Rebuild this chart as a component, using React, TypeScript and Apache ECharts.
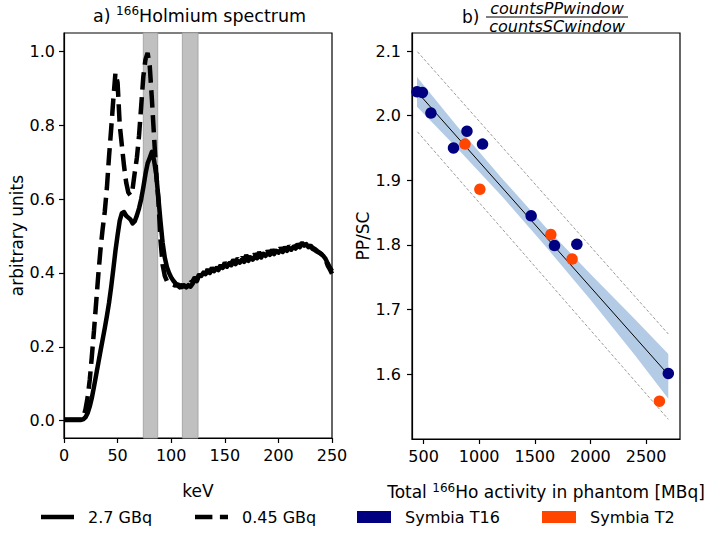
import React, { useEffect, useRef } from "react";
import * as echarts from "echarts";

// ---------- Panel a) 166Ho spectrum ----------
const energyKeV = [
  0, 2, 4, 6, 8, 10, 12, 14, 16, 18, 20, 22, 24, 26, 28, 30, 32, 34, 36, 38,
  40, 42, 44, 46, 48, 50, 52, 54, 56, 58, 60, 62, 64, 66, 68, 70, 72, 74, 76, 78,
  80, 82, 84, 86, 88, 90, 92, 94, 96, 98, 100, 102, 104, 106, 108, 110, 112, 114, 116, 118,
  120, 122, 124, 126, 128, 130, 132, 134, 136, 138, 140, 142, 144, 146, 148, 150, 152, 154, 156, 158,
  160, 162, 164, 166, 168, 170, 172, 174, 176, 178, 180, 182, 184, 186, 188, 190, 192, 194, 196, 198,
  200, 202, 204, 206, 208, 210, 212, 214, 216, 218, 220, 222, 224, 226, 228, 230, 232, 234, 236, 238,
  240, 242, 244, 246, 248, 250,
];

const spectrum27GBq = [
  0.003, 0.003, 0.003, 0.003, 0.003, 0.003, 0.003, 0.003, 0.003, 0.004, 0.009, 0.02, 0.038, 0.062, 0.092, 0.124, 0.156, 0.188, 0.219, 0.25,
  0.283, 0.319, 0.362, 0.41, 0.46, 0.503, 0.542, 0.562, 0.565, 0.555, 0.55, 0.545, 0.534, 0.54, 0.556, 0.575, 0.6, 0.632, 0.668, 0.697,
  0.712, 0.728, 0.705, 0.668, 0.605, 0.54, 0.482, 0.442, 0.416, 0.4, 0.388, 0.379, 0.372, 0.366, 0.361, 0.362, 0.366, 0.361, 0.367, 0.363,
  0.371, 0.382, 0.378, 0.394, 0.392, 0.401, 0.397, 0.405, 0.4, 0.409, 0.405, 0.413, 0.408, 0.418, 0.414, 0.422, 0.417, 0.426, 0.421, 0.43,
  0.424, 0.432, 0.428, 0.436, 0.43, 0.438, 0.433, 0.442, 0.436, 0.445, 0.44, 0.447, 0.442, 0.452, 0.446, 0.454, 0.449, 0.457, 0.451, 0.46,
  0.455, 0.462, 0.457, 0.465, 0.46, 0.468, 0.463, 0.471, 0.466, 0.474, 0.47, 0.479, 0.474, 0.478, 0.47, 0.472, 0.465, 0.462, 0.458, 0.455,
  0.451, 0.446, 0.438, 0.426, 0.415, 0.405,
];

const spectrum045GBq = [
  0.002, 0.002, 0.002, 0.002, 0.002, 0.002, 0.002, 0.002, 0.002, 0.008, 0.03, 0.062, 0.11, 0.175, 0.245, 0.32, 0.395, 0.462, 0.518, 0.565,
  0.63, 0.715, 0.79, 0.87, 0.942, 0.915, 0.8, 0.745, 0.69, 0.645, 0.618, 0.61, 0.628, 0.672, 0.712, 0.772, 0.852, 0.932, 0.978, 0.996,
  0.96, 0.87, 0.77, 0.67, 0.6, 0.49, 0.422, 0.392, 0.378, 0.372, 0.37, 0.368, 0.366, 0.37, 0.364, 0.368, 0.362, 0.372, 0.366, 0.374,
  0.378, 0.388, 0.382, 0.396, 0.39, 0.404, 0.398, 0.41, 0.402, 0.414, 0.406, 0.418, 0.41, 0.421, 0.415, 0.428, 0.42, 0.432, 0.424, 0.436,
  0.428, 0.44, 0.432, 0.443, 0.435, 0.448, 0.438, 0.45, 0.442, 0.452, 0.444, 0.456, 0.447, 0.458, 0.45, 0.46, 0.452, 0.463, 0.455, 0.466,
  0.458, 0.468, 0.46, 0.47, 0.462, 0.473, 0.466, 0.476, 0.468, 0.478, 0.472, 0.482, 0.476, 0.48, 0.472, 0.474, 0.468, 0.465, 0.46, 0.456,
  0.452, 0.443, 0.436, 0.42, 0.41, 0.398,
];

const photopeakWindow = [74, 87.4];
const scatterWindow = [110.4, 125];
const keVTicks = [0, 50, 100, 150, 200, 250];
const spectrumTicks = [0, 0.2, 0.4, 0.6, 0.8, 1.0];

// ---------- Panel b) PP/SC ratio ----------
const t16Activity = [441, 489, 566, 769, 890, 1030, 1467, 1677, 1878, 2700];
const t16Ratio = [2.037, 2.036, 2.004, 1.95, 1.976, 1.956, 1.845, 1.799, 1.801, 1.601];
const t2Activity = [872, 1006, 1644, 1835, 2620];
const t2Ratio = [1.956, 1.886, 1.816, 1.778, 1.558];

const fitActivity = [441, 2700];
const fitRatio = [2.037, 1.599];
const ciActivity = [441, 800, 1200, 1600, 2000, 2400, 2700];
const ciUpper = [2.06, 1.984, 1.904, 1.827, 1.755, 1.685, 1.631];
const ciLower = [2.014, 1.95, 1.876, 1.797, 1.715, 1.629, 1.562];
const piActivity = [445, 2700];
const piUpper = [2.099, 1.662];
const piLower = [1.975, 1.53];
const activityTicks = [500, 1000, 1500, 2000, 2500];
const ratioTicks = [1.6, 1.7, 1.8, 1.9, 2.0, 2.1];

const FONT = "DejaVu Sans";
const zip = (xs: number[], ys: number[]) => xs.map((x, i) => [x, ys[i]]);

function axisCommon(fontSize: number) {
  return {
    axisLine: { show: true, onZero: false, lineStyle: { color: "#000", width: 1.2 } },
    axisTick: { show: true, inside: false, length: 5, lineStyle: { color: "#000", width: 1.2 } },
    splitLine: { show: false },
    axisLabel: { color: "#000", fontSize, fontFamily: FONT, margin: 9 },
  };
}

export default function App() {
  const ref = useRef<HTMLDivElement>(null);

  useEffect(() => {
    document.body.style.margin = "0";
    const chart = echarts.init(ref.current!, null, { renderer: "svg" });
    const tickFont = 16;
    const labelFont = 17;
    const c = axisCommon(tickFont);

    const option: any = {
      animation: false,
      backgroundColor: "#fff",
      textStyle: { fontFamily: FONT },
      grid: [
        { left: 64, top: 33, width: 268, height: 405, show: true, borderColor: "#000", borderWidth: 1.2, backgroundColor: "transparent" },
        { left: 412, top: 33, width: 268, height: 406, show: true, borderColor: "#000", borderWidth: 1.2, backgroundColor: "transparent" },
      ],
      xAxis: [
        {
          type: "value", gridIndex: 0, min: 0, max: 250, ...c,
          axisLabel: { ...c.axisLabel, customValues: keVTicks, formatter: (v: number) => String(v) },
          axisTick: { ...c.axisTick, customValues: keVTicks },
          name: "keV", nameLocation: "middle", nameGap: 44,
          nameTextStyle: { color: "#000", fontSize: labelFont, fontFamily: FONT },
        },
        {
          type: "value", gridIndex: 1, min: 396, max: 2805, ...c,
          axisLabel: { ...c.axisLabel, customValues: activityTicks, formatter: (v: number) => String(v) },
          axisTick: { ...c.axisTick, customValues: activityTicks },
          name: "{n|Total }{s|166}{n|Ho activity in phantom [MBq]}", nameLocation: "middle", nameGap: 43,
          nameTextStyle: {
            color: "#000", fontFamily: FONT,
            rich: {
              n: { fontSize: labelFont, lineHeight: 20, fontFamily: FONT, color: "#000" },
              s: { fontSize: 12, lineHeight: 12, verticalAlign: "top", fontFamily: FONT, color: "#000" },
            },
          },
        },
      ],
      yAxis: [
        {
          type: "value", gridIndex: 0, min: -0.047, max: 1.05, ...c,
          axisLabel: { ...c.axisLabel, customValues: spectrumTicks, formatter: (v: number) => v.toFixed(1) },
          axisTick: { ...c.axisTick, customValues: spectrumTicks },
          name: "arbitrary units", nameLocation: "middle", nameGap: 39,
          nameTextStyle: { color: "#000", fontSize: labelFont, fontFamily: FONT },
        },
        {
          type: "value", gridIndex: 1, min: 1.4995, max: 2.128, ...c,
          axisLabel: { ...c.axisLabel, margin: 11, customValues: ratioTicks, formatter: (v: number) => v.toFixed(1) },
          axisTick: { ...c.axisTick, customValues: ratioTicks },
          name: "PP/SC", nameLocation: "middle", nameGap: 36,
          nameTextStyle: { color: "#000", fontSize: labelFont, fontFamily: FONT },
        },
      ],
      series: [
        {
          name: "windows", type: "line", xAxisIndex: 0, yAxisIndex: 0, data: [], z: 1, silent: true,
          markArea: {
            silent: true,
            itemStyle: { color: "#c0c0c0", borderColor: "#a8a8a8", borderWidth: 1 },
            data: [
              [{ xAxis: photopeakWindow[0] }, { xAxis: photopeakWindow[1] }],
              [{ xAxis: scatterWindow[0] }, { xAxis: scatterWindow[1] }],
            ],
          },
        },
        {
          name: "2.7 GBq", type: "line", xAxisIndex: 0, yAxisIndex: 0, z: 3,
          data: zip(energyKeV, spectrum27GBq), symbol: "none",
          lineStyle: { color: "#000", width: 4.5, join: "round" },
        },
        {
          name: "0.45 GBq", type: "line", xAxisIndex: 0, yAxisIndex: 0, z: 3,
          data: zip(energyKeV, spectrum045GBq), symbol: "none",
          lineStyle: { color: "#000", width: 4.5, type: [17.4, 7.5] },
        },
        {
          name: "CI", type: "custom", xAxisIndex: 1, yAxisIndex: 1, z: 1, silent: true,
          data: [[ciActivity[0], ciUpper[0]]],
          renderItem: (_p: any, api: any) => {
            const pts: number[][] = [];
            for (let i = 0; i < ciActivity.length; i++) pts.push(api.coord([ciActivity[i], ciUpper[i]]));
            for (let i = ciActivity.length - 1; i >= 0; i--) pts.push(api.coord([ciActivity[i], ciLower[i]]));
            return { type: "polygon", shape: { points: pts }, style: { fill: "#b4cbe6" } };
          },
        },
        {
          name: "PI upper", type: "line", xAxisIndex: 1, yAxisIndex: 1, z: 2, symbol: "none",
          data: zip(piActivity, piUpper), lineStyle: { color: "#808080", width: 0.8, type: [3, 2] },
        },
        {
          name: "PI lower", type: "line", xAxisIndex: 1, yAxisIndex: 1, z: 2, symbol: "none",
          data: zip(piActivity, piLower), lineStyle: { color: "#808080", width: 0.8, type: [3, 2] },
        },
        {
          name: "fit", type: "line", xAxisIndex: 1, yAxisIndex: 1, z: 2, symbol: "none",
          data: zip(fitActivity, fitRatio), lineStyle: { color: "#000", width: 1 },
        },
        {
          name: "Symbia T16", type: "scatter", xAxisIndex: 1, yAxisIndex: 1, z: 3,
          data: zip(t16Activity, t16Ratio), symbolSize: 11.5, itemStyle: { color: "#000080", opacity: 1 },
        },
        {
          name: "Symbia T2", type: "scatter", xAxisIndex: 1, yAxisIndex: 1, z: 4,
          data: zip(t2Activity, t2Ratio), symbolSize: 11.5, itemStyle: { color: "#ff4500", opacity: 1 },
        },
      ],
      graphic: [
        {
          type: "text", left: 93, top: 5,
          style: {
            text: "{n|a) }{s|166}{n|Holmium spectrum}",
            fontFamily: FONT,
            rich: {
              n: { fontSize: 17.5, lineHeight: 22, fontFamily: FONT, fill: "#000" },
              s: { fontSize: 12, lineHeight: 14, verticalAlign: "top", fontFamily: FONT, fill: "#000" },
            },
          },
        },
        { type: "text", x: 462, y: 17, style: { text: "b)", fontSize: 17, fontFamily: FONT, fill: "#000", verticalAlign: "middle", align: "left" } },
        { type: "text", x: 557, y: 8, style: { text: "countsPPwindow", fontSize: 16, lineHeight: 16, fontStyle: "italic", fontFamily: FONT, fill: "#000", align: "center", verticalAlign: "middle" } },
        { type: "line", shape: { x1: 486, y1: 17, x2: 628, y2: 17 }, style: { stroke: "#000", lineWidth: 1 } },
        { type: "text", x: 557, y: 26, style: { text: "countsSCwindow", fontSize: 16, lineHeight: 16, fontStyle: "italic", fontFamily: FONT, fill: "#000", align: "center", verticalAlign: "middle" } },
        // legend
        { type: "line", shape: { x1: 41, y1: 517, x2: 74, y2: 517 }, style: { stroke: "#000", lineWidth: 4.5 } },
        { type: "text", x: 88, y: 517, style: { text: "2.7 GBq", fontSize: 16, fontFamily: FONT, fill: "#000", verticalAlign: "middle" } },
        { type: "line", shape: { x1: 195, y1: 517, x2: 228, y2: 517 }, style: { stroke: "#000", lineWidth: 4.5, lineDash: [17.4, 7.5] } },
        { type: "text", x: 242, y: 517, style: { text: "0.45 GBq", fontSize: 16, fontFamily: FONT, fill: "#000", verticalAlign: "middle" } },
        { type: "rect", shape: { x: 357, y: 511, width: 34, height: 12 }, style: { fill: "#000080" } },
        { type: "text", x: 405, y: 517, style: { text: "Symbia T16", fontSize: 16, fontFamily: FONT, fill: "#000", verticalAlign: "middle" } },
        { type: "rect", shape: { x: 542, y: 511, width: 34, height: 12 }, style: { fill: "#ff4500" } },
        { type: "text", x: 590, y: 517, style: { text: "Symbia T2", fontSize: 16, fontFamily: FONT, fill: "#000", verticalAlign: "middle" } },
      ],
    };

    chart.setOption(option);
    return () => chart.dispose();
  }, []);

  return (
    <div
      ref={ref}
      style={{ position: "fixed", left: 0, top: 0, width: 709, height: 545, background: "#fff" }}
    />
  );
}
